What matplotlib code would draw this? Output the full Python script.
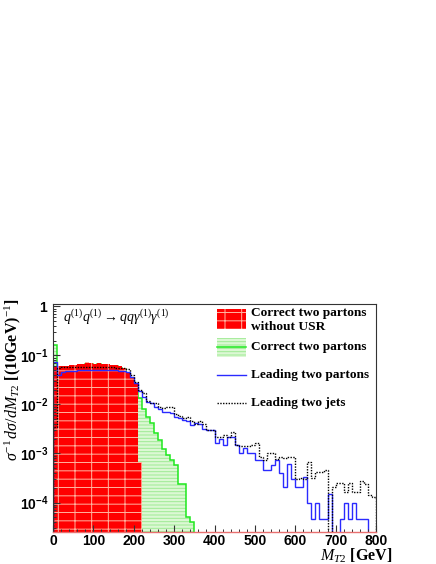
import numpy as np
import matplotlib
matplotlib.use('Agg')
import matplotlib.pyplot as plt
import matplotlib.ticker as ticker
from matplotlib.patches import Rectangle
from matplotlib.lines import Line2D

# --- data (10 GeV bins) ---
bin_width = 10
red_vals = [0.060, 0.060, 0.061, 0.062, 0.063, 0.064, 0.066, 0.068, 0.073, 0.070,
            0.068, 0.071, 0.067, 0.066, 0.064, 0.065, 0.060, 0.056, 0.047, 0.037,
            0.028, 0.00067]
green_vals = [0.16, 0.055, 0.057, 0.058, 0.059, 0.060, 0.062, 0.064, 0.068, 0.066,
              0.064, 0.067, 0.063, 0.062, 0.060, 0.061, 0.056, 0.052, 0.044, 0.035,
              0.026, 0.0134, 0.0079, 0.0056, 0.0041, 0.0026, 0.0019, 0.00126, 0.00095, 0.00073,
              0.00058, 0.00024, 0.00024, 0.00005, 0.00004]
blue_vals = [0.075, 0.040, 0.046, 0.048, 0.049, 0.049, 0.050, 0.050, 0.051, 0.050,
             0.051, 0.050, 0.051, 0.050, 0.050, 0.050, 0.049, 0.048, 0.045, 0.037,
             0.027, 0.0184, 0.0145, 0.0114, 0.0106, 0.0090, 0.0080, 0.0071, 0.0071, 0.0066,
             0.0056, 0.0052, 0.0048, 0.0045, 0.0038, 0.0042, 0.0040, 0.0032, 0.0030, 0.0030,
             0.0016, 0.0020, 0.0015, 0.0022, 0.0022, 0.0015, 0.0010, 0.0013, 0.0010, 0.0010,
             0.00073, 0.00073, 0.00046, 0.00046, 0.00058, 0.00073, 0.00040, 0.00021, 0.00060, 0.00030,
             0.00021, 0.00021, 0.00033, 0.00010, 0.000047, 0.00010, 0.000047, 0.000047, 0.00015, 0,
             0, 0.000047, 0.00010, 0.000047, 0.00010, 0.000047, 0.000047, 0.000047, 0, 0]
black_vals = [0.0035, 0.055, 0.057, 0.057, 0.058, 0.057, 0.057, 0.058, 0.058, 0.057,
              0.058, 0.057, 0.058, 0.057, 0.057, 0.056, 0.055, 0.055, 0.052, 0.040,
              0.029, 0.020, 0.0172, 0.012, 0.0105, 0.0105, 0.0090, 0.0085, 0.0090, 0.0088,
              0.0063, 0.0058, 0.0052, 0.0056, 0.0045, 0.0040, 0.0045, 0.0040, 0.0030, 0.0030,
              0.0022, 0.0022, 0.0024, 0.0022, 0.0028, 0.0015, 0.0014, 0.0014, 0.0014, 0.0015,
              0.0016, 0.00085, 0.00073, 0.0010, 0.0010, 0.00079, 0.00085, 0.00080, 0.00085, 0.00085,
              0.00030, 0.00031, 0.00030, 0.00067, 0.00031, 0.00042, 0.00042, 0.00046, 0, 0.00021,
              0.00025, 0.00025, 0.00016, 0.00025, 0.00016, 0.00016, 0.00028, 0.00024, 0.00014, 0.00013]

legend_labels = ["Correct two partons\nwithout USR", "Correct two partons",
                 "Leading two partons", "Leading two jets"]
process_label = r'$q^{(1)}q^{(1)} \rightarrow qq\gamma^{(1)}\gamma^{(1)}$'
x_ticks = [0, 100, 200, 300, 400, 500, 600, 700, 800]
y_ticks = [1, 1e-1, 1e-2, 1e-3, 1e-4]
y_tick_labels = [r'$\mathsf{1}$', r'$\mathsf{10^{-1}}$', r'$\mathsf{10^{-2}}$',
                 r'$\mathsf{10^{-3}}$', r'$\mathsf{10^{-4}}$']

plt.rcParams['mathtext.fontset'] = 'custom'
plt.rcParams['mathtext.rm'] = 'Liberation Serif'
plt.rcParams['mathtext.it'] = 'Liberation Serif:italic'
plt.rcParams['mathtext.bf'] = 'Liberation Serif:bold'
plt.rcParams['mathtext.sf'] = 'Liberation Sans:bold'
plt.rcParams['hatch.linewidth'] = 0.7

FLOOR = 1e-7


def edges_for(vals):
    return np.arange(len(vals) + 1) * bin_width


def floored(vals):
    v = np.asarray(vals, dtype=float)
    return np.where(v > 0, v, FLOOR)


fig = plt.figure(figsize=(4.36, 5.64), dpi=100)
ax = fig.add_axes([0.1216, 0.0567, 0.7408, 0.4043])
ax.set_yscale('log')

red_hatch = '#ffb4a0'
green_face = '#dcf8d4'
green_hatch = '#9eea94'
green_line = '#1ee81e'
blue_line = '#2a2aff'

# green (with USR) filled histogram
ax.stairs(floored(green_vals), edges_for(green_vals), baseline=FLOOR, fill=True,
          facecolor=green_face, edgecolor=green_hatch, hatch='-----', linewidth=0)
ax.stairs(floored(green_vals), edges_for(green_vals), baseline=FLOOR,
          color=green_line, linewidth=1.1)
# red (no USR) filled histogram
ax.stairs(floored(red_vals), edges_for(red_vals), baseline=FLOOR, fill=True,
          facecolor='red', edgecolor=red_hatch, hatch='|--', linewidth=0)
# leading partons / jets
ax.stairs(floored(blue_vals), edges_for(blue_vals), baseline=FLOOR,
          color=blue_line, linewidth=1.0)
ax.stairs(floored(black_vals), edges_for(black_vals), baseline=FLOOR,
          color='black', linewidth=1.0, linestyle=(0, (1, 1)))

ax.set_xlim(0, 800)
ax.set_ylim(2.5e-5, 1.12)

ax.xaxis.set_major_locator(ticker.FixedLocator(x_ticks))
ax.xaxis.set_minor_locator(ticker.MultipleLocator(20))
ax.set_xticklabels([str(t) for t in x_ticks], fontfamily='Liberation Sans',
                   fontweight='bold', fontsize=10)
ax.yaxis.set_major_locator(ticker.FixedLocator(y_ticks))
ax.yaxis.set_major_formatter(ticker.FixedFormatter(y_tick_labels))
ax.yaxis.set_minor_locator(ticker.LogLocator(base=10, subs=np.arange(2, 10)))
ax.yaxis.set_minor_formatter(ticker.NullFormatter())
ax.tick_params(axis='y', labelsize=10)
ax.tick_params(which='both', direction='in', top=False, right=False, color='#333333')
ax.tick_params(which='major', length=5, width=0.8)
ax.tick_params(which='minor', length=2.5, width=0.7)
ax.tick_params(axis='x', pad=1.5)
ax.tick_params(axis='y', pad=3)

for s in ['top', 'right', 'left']:
    ax.spines[s].set_color('#333333')
    ax.spines[s].set_linewidth(0.8)
ax.spines['bottom'].set_color('#e87070')
ax.spines['bottom'].set_linewidth(1.0)

ax.text(0.031, 0.94, process_label, transform=ax.transAxes, fontsize=10,
        ha='left', va='center')

# legend drawn by hand to match the layout
lx0, lw = 0.508, 0.09
tx = 0.613
lfont = dict(fontfamily='Liberation Serif', fontweight='bold', fontsize=9.6,
             transform=ax.transAxes, ha='left', va='center')
ax.add_patch(Rectangle((lx0, 0.890), lw, 0.088, transform=ax.transAxes,
                       facecolor='red', edgecolor=red_hatch, hatch='|--', linewidth=0))
ax.text(tx, 0.930, legend_labels[0], linespacing=1.2, **lfont)
ax.add_patch(Rectangle((lx0, 0.768), lw, 0.083, transform=ax.transAxes,
                       facecolor=green_face, edgecolor=green_hatch, hatch='-----', linewidth=0))
ax.add_line(Line2D([lx0, lx0 + lw], [0.81, 0.81], transform=ax.transAxes,
                   color=green_line, linewidth=1.1))
ax.text(tx, 0.811, legend_labels[1], **lfont)
ax.add_line(Line2D([lx0, lx0 + lw], [0.689, 0.689], transform=ax.transAxes,
                   color=blue_line, linewidth=1.0))
ax.text(tx, 0.689, legend_labels[2], **lfont)
ax.add_line(Line2D([lx0, lx0 + lw], [0.566, 0.566], transform=ax.transAxes,
                   color='black', linewidth=1.0, linestyle=(0, (1, 1))))
ax.text(tx, 0.566, legend_labels[3], **lfont)

fig.text(0.030, 0.470, r'$\sigma^{-1}\,d\sigma/dM_{T2}$ [(10GeV)$^{-1}$]', rotation=90,
         ha='center', va='top', fontfamily='Liberation Serif', fontweight='bold', fontsize=11.5)
fig.text(392 / 436, 1 - 556 / 564, r'$M_{T2}$ [GeV]', ha='right', va='center',
         fontfamily='Liberation Serif', fontweight='bold', fontsize=11.5)

fig.savefig('out.png', dpi=100)
